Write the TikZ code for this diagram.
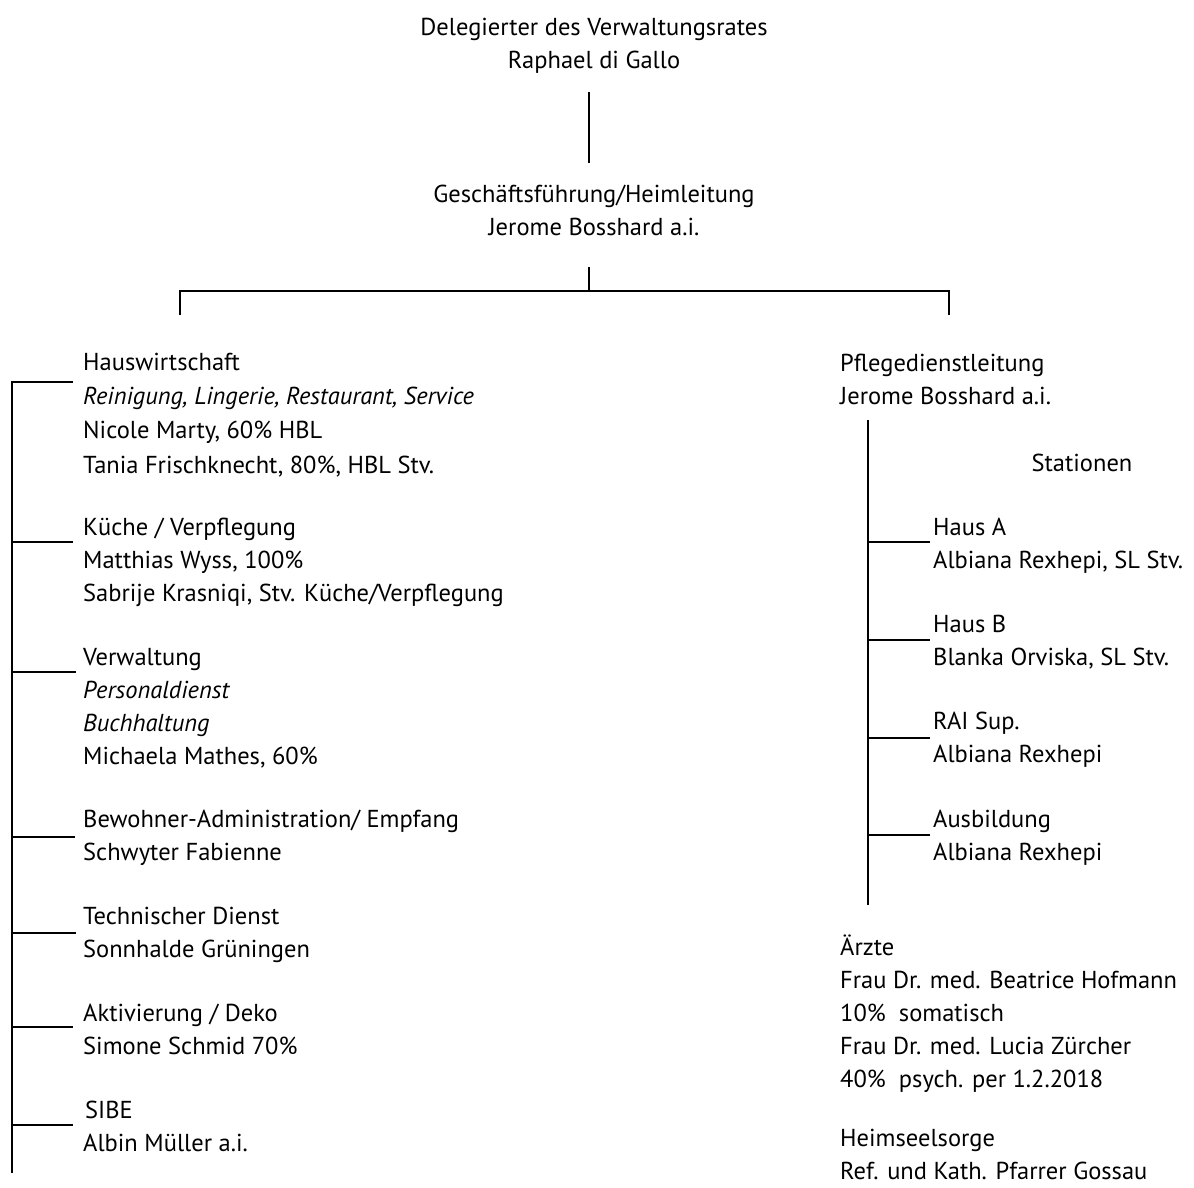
\documentclass[tikz,border=0pt]{standalone}
\usepackage{fontspec}
\setmainfont{PT Sans}
\begin{document}
\begin{tikzpicture}[x=1pt,y=-1pt,
  txt/.style={inner sep=0pt, align=left, font=\fontsize{24.5}{33}\selectfont, anchor=base west},
  ctxt/.style={inner sep=0pt, align=center, font=\fontsize{24.5}{33}\selectfont, anchor=base},
  ln/.style={line width=1.5pt}]
\useasboundingbox[fill=white] (0,0) rectangle (1194,1187);
% top (anchors at the baseline of the last line)
\node[ctxt] (del) at (594,68) {Delegierter des Verwaltungsrates\\Raphael di Gallo};
\node[ctxt] (gf) at (594,235) {Geschäftsführung/Heimleitung\\Jerome Bosshard a.i.};
\coordinate (d1) at (589,92);
\coordinate (d2) at (589,163);
\coordinate (g1) at (589,267);
\coordinate (g2) at (589,291);
\coordinate (bl) at (180,291);
\coordinate (br) at (949,291);
\coordinate (bl2) at (180,315);
\coordinate (br2) at (949,315);
\draw[ln] (d1) -- (d2);
\draw[ln] (g1) -- (g2);
\draw[ln] (bl2) -- (bl) -- (br) -- (br2);
% left column
\node[txt, font=\fontsize{24.5}{34.3}\selectfont] (haus) at (83,473) {Hauswirtschaft\\\textit{Reinigung, Lingerie, Restaurant, Service}\\Nicole Marty, 60\% HBL\\Tania Frischknecht, 80\%, HBL Stv.};
\node[txt] (kue) at (83,601) {Küche / Verpflegung\\Matthias Wyss, 100\%\\Sabrije Krasniqi, Stv. Küche/Verpflegung};
\node[txt] (verw) at (83,764) {Verwaltung\\\textit{Personaldienst}\\\textit{Buchhaltung}\\Michaela Mathes, 60\%};
\node[txt] (bew) at (83,860) {Bewohner-Administration/ Empfang\\Schwyter Fabienne};
\node[txt] (tech) at (83,957) {Technischer Dienst\\Sonnhalde Grüningen};
\node[txt] (akt) at (83,1054) {Aktivierung / Deko\\Simone Schmid 70\%};
\node[txt] (sibe) at (83,1151) {\hspace*{2pt}SIBE\\Albin Müller a.i.};
\coordinate (lt) at (12,381);
\coordinate (lb) at (12,1173);
\draw[ln] (lt) -- (lb);
\foreach \y/\e in {382/73,542/73,672/76,837/75,933/76,1027/73,1125/73}{
  \draw[ln] (12,\y) -- (\e,\y);
}
% right column
\node[txt] (pfl) at (840,404) {Pflegedienstleitung\\Jerome Bosshard a.i.};
\node[ctxt] (stat) at (1082,471) {Stationen};
\node[txt] (ha) at (933,568) {Haus A\\Albiana Rexhepi, SL Stv.};
\node[txt] (hb) at (933,665) {Haus B\\Blanka Orviska, SL Stv.};
\node[txt] (rai) at (933,762) {RAI Sup.\\Albiana Rexhepi};
\node[txt] (ausb) at (933,860) {Ausbildung\\Albiana Rexhepi};
\node[txt] (arz) at (840,1087) {Ärzte\\Frau Dr. med. Beatrice Hofmann\\10\%~ somatisch\\Frau Dr. med. Lucia Zürcher\\40\%~ psych. per 1.2.2018};
\node[txt] (heim) at (840,1179) {Heimseelsorge\\Ref. und Kath. Pfarrer Gossau};
\coordinate (rt) at (868,420);
\coordinate (rb) at (868,905);
\draw[ln] (rt) -- (rb);
\foreach \y in {542,640,738,835}{
  \draw[ln] (868,\y) -- (930,\y);
}
\end{tikzpicture}
\end{document}
